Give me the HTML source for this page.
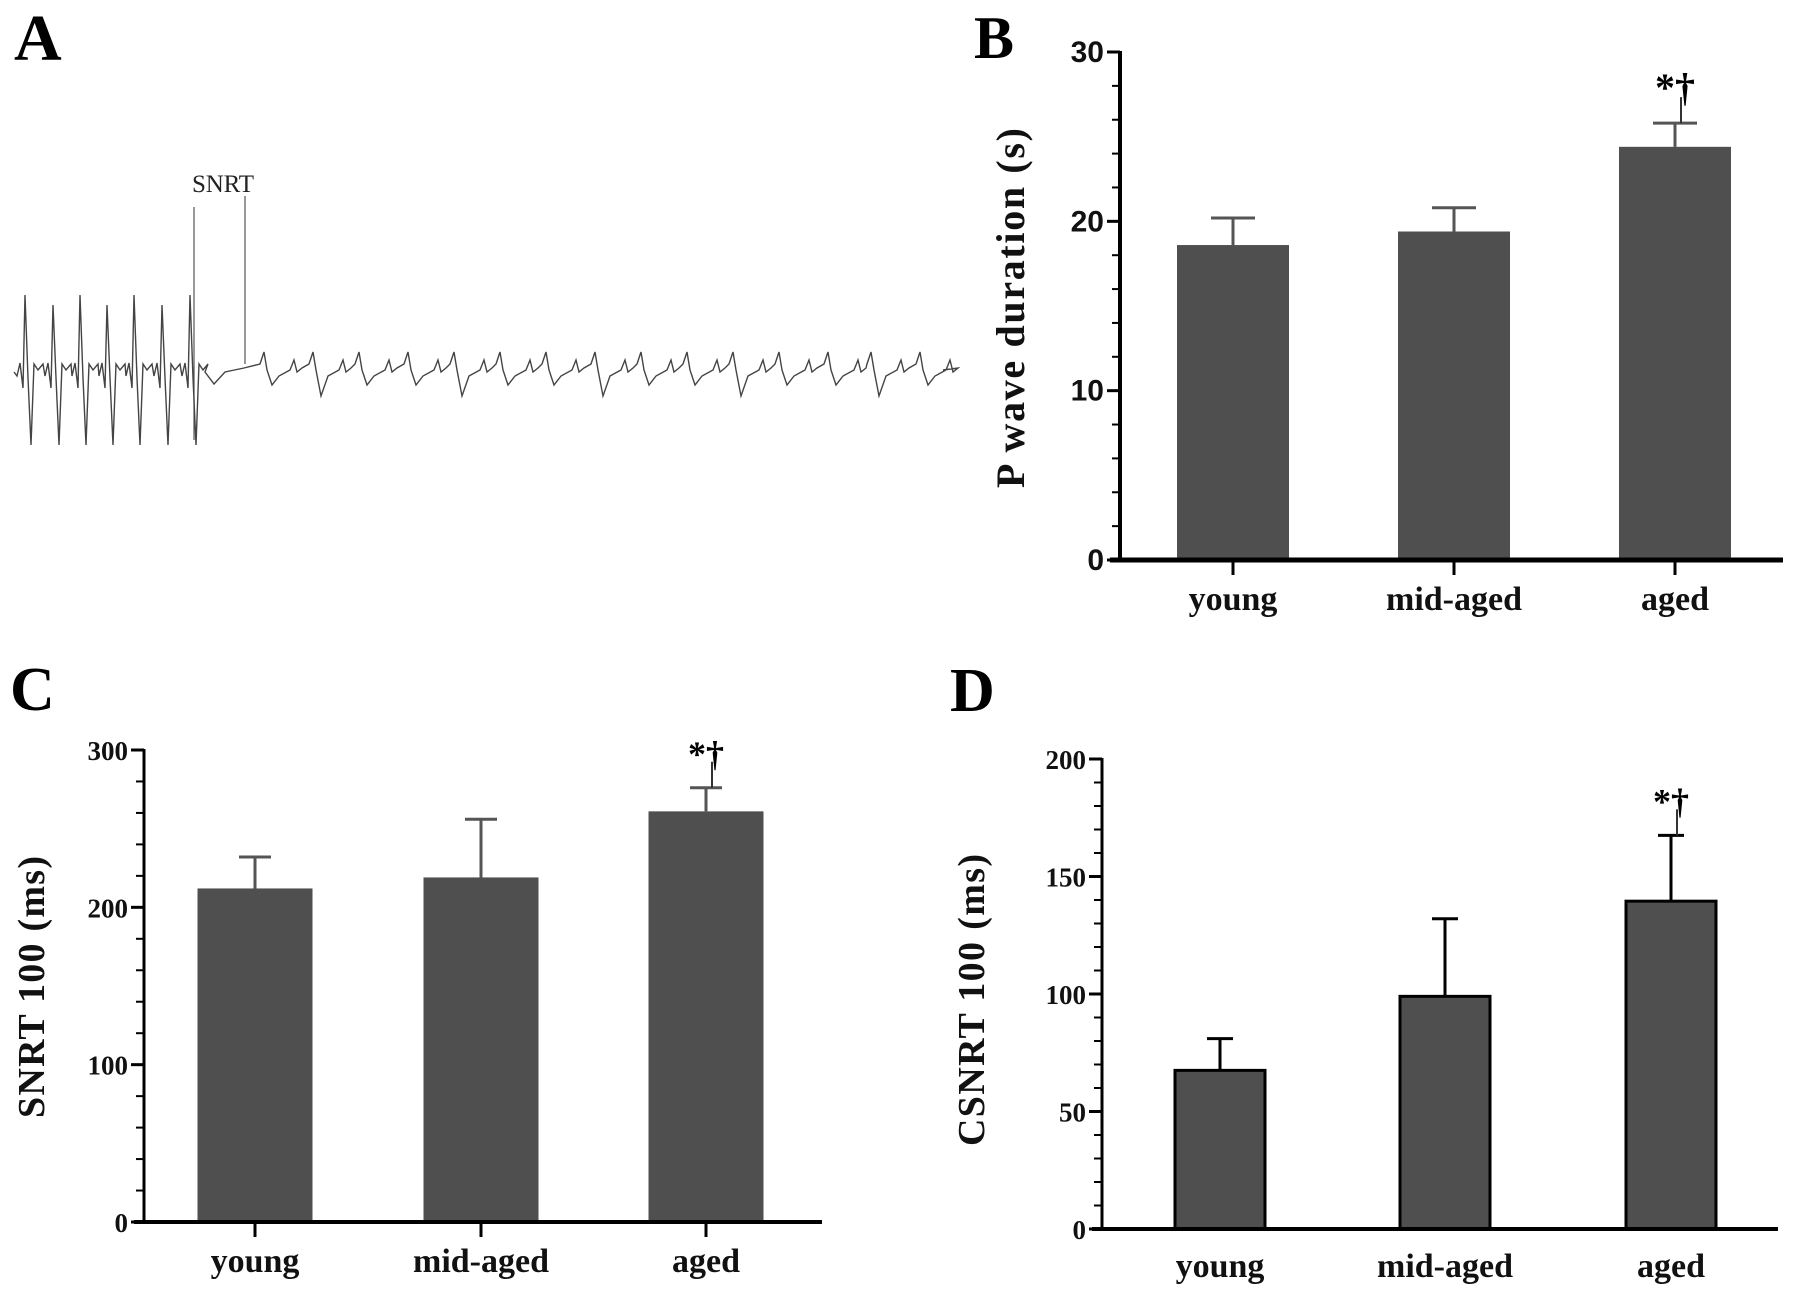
<!DOCTYPE html>
<html><head><meta charset="utf-8"><style>
html,body{margin:0;padding:0;background:#fff;}
svg{display:block;}
.lbl{font-family:"Liberation Serif",serif;font-weight:bold;}
</style></head><body>
<svg id="fig" width="1795" height="1293" viewBox="0 0 1795 1293" xmlns="http://www.w3.org/2000/svg">
<text class="lbl" x="14" y="60" font-size="66">A</text>
<text class="lbl" x="974" y="58" font-size="60">B</text>
<text class="lbl" x="10" y="710" font-size="62">C</text>
<text class="lbl" x="950" y="711" font-size="62">D</text>
<g id="ecg">
<line x1="194" y1="207" x2="194" y2="440" stroke="#555" stroke-width="1.2"/>
<line x1="245" y1="196" x2="245" y2="364" stroke="#555" stroke-width="1.2"/>
<text x="192" y="192" font-family="Liberation Serif,serif" font-size="25" fill="#222" textLength="62">SNRT</text>
</g>
<g id="chartB"></g><g id="chartC"></g><g id="chartD"></g>
</svg>
<script>
// ECG beat positions
const pacedSpikes = [25, 53, 80, 107, 134, 162, 190];
const beatX = [264, 313, 359, 408, 454, 500, 546, 595, 641, 687, 733, 779, 828, 871, 920];

// Panel B
const categories = ["young", "mid-aged", "aged"];
const bValues = [18.6, 19.4, 24.4];
const bErrors = [1.6, 1.4, 1.4];
const bTicks = [0, 10, 20, 30];
// Panel C
const cValues = [212, 219, 261];
const cErrors = [20, 37, 15];
const cTicks = [0, 100, 200, 300];
// Panel D
const dValues = [67.5, 99, 139.5];
const dErrors = [13.5, 33, 28];
const dTicks = [0, 50, 100, 150, 200];

const NS = "http://www.w3.org/2000/svg";
function mk(parent, tag, attrs) {
  const e = document.createElementNS(NS, tag);
  for (const k in attrs) e.setAttribute(k, attrs[k]);
  parent.appendChild(e);
  return e;
}

// ECG
(function () {
  const g = document.getElementById("ecg");
  let d = "M14 372";
  const base = 368;
  pacedSpikes.forEach((x, i) => {
    const top = i % 2 ? 305 : 295;
    d += ` L${x - 8} ${base + 8} L${x - 5} ${base - 5} L${x - 2} ${base + 20} L${x} ${top} L${x + 3} ${base + 10} L${x + 6} 445 L${x + 9} ${base - 4} L${x + 13} ${base + 2} L${x + 18} ${base - 4}`;
  });
  d += " L205 372 L214 384 L225 372 L244 368";
  beatX.forEach((x, i) => {
    const dip = i % 3 === 1 ? 396 : 385;
    d += ` L${x - 4} ${base - 4} L${x} 352 L${x + 3} 370 L${x + 8} ${dip} L${x + 15} ${base + 8} L${x + 26} ${base + 2} L${x + 30} 360 L${x + 33} ${base + 4} L${x + 38} ${base}`;
  });
  d += " L943 370";
  const p = mk(g, "path", { d: d, fill: "none", stroke: "#444", "stroke-width": 1.4 });
  
  
})();

function drawChart(id, cfg) {
  const g = document.getElementById(id);
  
  
  const y = v => cfg.y0 - (v - 0) / cfg.max * (cfg.y0 - cfg.yTop);
  cfg.values.forEach((v, i) => {
    const cx = cfg.centers[i];
    const r = mk(g, "rect", { x: cx - cfg.bw / 2, y: y(v), width: cfg.bw, height: cfg.y0 - y(v), fill: "#4f4f4f",
      stroke: cfg.outline ? "#000" : "none", "stroke-width": cfg.outline ? 3 : 0 });
    
    
    const top = v + cfg.errors[i];
    const el = mk(g, "path", { d: `M${cx} ${y(v)} V${y(top)} M${cx - cfg.cap} ${y(top)} H${cx + cfg.cap}`, stroke: cfg.outline ? "#000" : "#555", "stroke-width": 3, fill: "none" });
    
    
    if (i === 2) {
      const s = mk(g, "text", { x: cx, y: y(top) - 22, "text-anchor": "middle", "font-family": "Liberation Serif,serif", "font-weight": "bold", "font-size": cfg.starSize });
      s.textContent = "*†";
      
      
      mk(g, "line", { x1: cx + 6, y1: y(top) - 26, x2: cx + 6, y2: y(top), stroke: "#333", "stroke-width": 2 });
    }
    const t = mk(g, "text", { x: cx, y: cfg.labY, "text-anchor": "middle", "font-family": "Liberation Serif,serif", "font-weight": "bold", "font-size": 34, fill: "#111" });
    t.textContent = categories[i];
    
    
    if (cfg.xticks) mk(g, "line", { x1: cx, y1: cfg.y0, x2: cx, y2: cfg.y0 + 15, stroke: "#000", "stroke-width": 3 });
  });
  const ya = mk(g, "line", { x1: cfg.x0, y1: cfg.yTop - 1, x2: cfg.x0, y2: cfg.y0, stroke: "#000", "stroke-width": cfg.axisW });
  
  
  const xa = mk(g, "line", { x1: cfg.x0 - 10, y1: cfg.y0, x2: cfg.xEnd, y2: cfg.y0, stroke: "#000", "stroke-width": cfg.axisW + 1 });
  
  
  for (let v = 0; v <= cfg.max + 1e-9; v += cfg.minor) {
    mk(g, "line", { x1: cfg.x0 - 8, y1: y(v), x2: cfg.x0, y2: y(v), stroke: "#000", "stroke-width": 2 });
  }
  cfg.ticks.forEach(v => {
    mk(g, "line", { x1: cfg.x0 - 13, y1: y(v), x2: cfg.x0, y2: y(v), stroke: "#000", "stroke-width": 3 });
    const t = mk(g, "text", { x: cfg.x0 - 16, y: y(v) + 10, "text-anchor": "end", "font-family": cfg.tickFont, "font-weight": "bold", "font-size": cfg.tickSize, fill: "#111" });
    t.textContent = v;
    
    
  });
  const tt = mk(g, "text", { x: 0, y: 0, transform: `translate(${cfg.titleX},${cfg.titleY}) rotate(-90)`, "text-anchor": "middle", "font-family": "Liberation Serif,serif", "font-weight": "bold", "font-size": cfg.titleSize, "textLength": cfg.titleLen, fill: "#111" });
  tt.textContent = cfg.title;
  
  
}

drawChart("chartB", { name: "p-wave-duration-chart", values: bValues, errors: bErrors, ticks: bTicks, max: 30, minor: 2,
  x0: 1120, xEnd: 1783, y0: 560, yTop: 52, centers: [1233, 1454, 1675], bw: 112, cap: 22, labY: 610, xticks: true,
  tickFont: "Liberation Sans,sans-serif", tickSize: 30, title: "P wave duration (s)", titleX: 1024, titleY: 308, titleSize: 40, titleLen: 360, axisW: 4, starSize: 40 });
drawChart("chartC", { name: "snrt-chart", values: cValues, errors: cErrors, ticks: cTicks, max: 300, minor: 20,
  x0: 144, xEnd: 822, y0: 1222, yTop: 750, centers: [255, 481, 706], bw: 115, cap: 16, labY: 1272, xticks: true,
  tickFont: "Liberation Serif,serif", tickSize: 27, title: "SNRT 100 (ms)", titleX: 44, titleY: 987, titleSize: 38, titleLen: 262, axisW: 3, starSize: 36 });
drawChart("chartD", { name: "csnrt-chart", values: dValues, errors: dErrors, ticks: dTicks, max: 200, minor: 10,
  x0: 1102, xEnd: 1778, y0: 1229, yTop: 759, centers: [1220, 1445, 1671], bw: 90, cap: 13, labY: 1277, xticks: false, outline: true,
  tickFont: "Liberation Serif,serif", tickSize: 27, title: "CSNRT 100 (ms)", titleX: 984, titleY: 1000, titleSize: 38, titleLen: 292, axisW: 3, starSize: 36 });
</script>
</body></html>
